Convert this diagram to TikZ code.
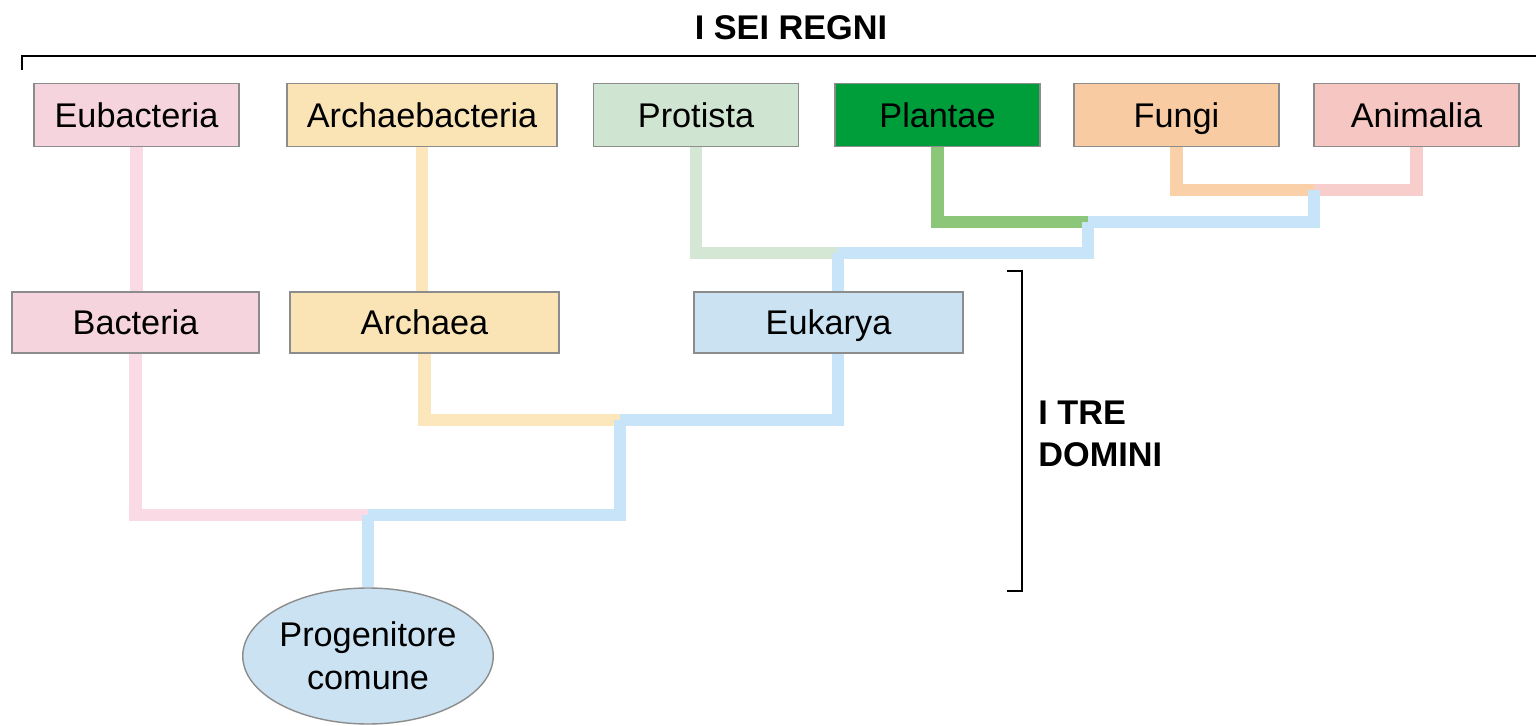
\documentclass[tikz,border=0pt]{standalone}
\usepackage{fontspec}
\setmainfont{Liberation Sans}
\usepackage{tikz}
\usetikzlibrary{calc,shapes.geometric}
\definecolor{rosa}{RGB}{246,212,222}
\definecolor{rosaramo}{RGB}{250,218,228}
\definecolor{giallo}{RGB}{250,228,182}
\definecolor{gialloramo}{RGB}{252,231,188}
\definecolor{verdino}{RGB}{208,228,210}
\definecolor{verdinoramo}{RGB}{212,230,212}
\definecolor{verde}{RGB}{0,158,58}
\definecolor{verderamo}{RGB}{140,198,120}
\definecolor{arancio}{RGB}{248,203,162}
\definecolor{arancioramo}{RGB}{250,208,168}
\definecolor{salmone}{RGB}{246,198,194}
\definecolor{salmoneramo}{RGB}{248,206,204}
\definecolor{azzurro}{RGB}{202,226,242}
\definecolor{azzurroramo}{RGB}{200,228,248}
\tikzstyle{regno}=[rectangle,draw=black!45,line width=0.8pt,minimum width=4.1cm,minimum height=1.26cm,inner sep=0pt,text height=14pt,text depth=0pt,font=\fontsize{19.5}{23}\selectfont]
\tikzstyle{dominio}=[regno,minimum height=1.22cm]
\tikzstyle{ramo}=[line width=7pt]
\tikzstyle{titolo}=[font=\fontsize{19.5}{24}\selectfont\bfseries,inner sep=0pt]

\begin{document}
\begin{tikzpicture}[x=0.02cm,y=-0.02cm]
		\useasboundingbox (0,0) rectangle (1536,726);

		\node(titolo)[titolo] at (791,28) {I SEI REGNI};
		\draw[line width=1.4pt] (22,70) -- (22,56) -- (1536,56);

		\node(eub)[regno,fill=rosa] at (136.5,115) {Eubacteria};
		\node(arb)[regno,fill=giallo,minimum width=5.4cm] at (422,115) {Archaebacteria};
		\node(pro)[regno,fill=verdino] at (696,115) {Protista};
		\node(pla)[regno,fill=verde] at (937.5,115) {Plantae};
		\node(fun)[regno,fill=arancio] at (1176.5,115) {Fungi};
		\node(ani)[regno,fill=salmone] at (1416.5,115) {Animalia};

		\node(bac)[dominio,fill=rosa,minimum width=4.94cm] at (135.5,322.5) {Bacteria};
		\node(arc)[dominio,fill=giallo,minimum width=5.38cm] at (424.5,322.5) {Archaea};
		\node(euk)[dominio,fill=azzurro,minimum width=5.38cm] at (828.5,322.5) {Eukarya};

		\node(prog)[ellipse,draw=black!45,line width=0.8pt,fill=azzurro,minimum width=4.7cm,minimum height=2.72cm,inner sep=0pt,align=center,font=\fontsize{19.5}{24.5}\selectfont] at (368,656) {Progenitore\\comune};

		\coordinate(c1) at (368,515);
		\coordinate(c2) at (620,420);
		\coordinate(c3) at (838,253);
		\coordinate(c4) at (1088,222);
		\coordinate(c5) at (1314,190);

		\draw[ramo,rosaramo] (eub.south) -- (eub.south |- bac.north);
		\draw[ramo,gialloramo] (arb.south) -- (arb.south |- arc.north);
		\draw[ramo,verdinoramo] (pro.south) |- (c3);
		\draw[ramo,verderamo] (pla.south) |- (c4);
		\draw[ramo,arancioramo] (fun.south) |- (c5);
		\draw[ramo,salmoneramo] (ani.south) |- (c5);
		\draw[ramo,azzurroramo] (c5) |- (c4);
		\draw[ramo,azzurroramo] (c4) |- (c3);
		\draw[ramo,azzurroramo] (c3) -- (c3 |- euk.north);

		\draw[ramo,rosaramo] (bac.south) |- (c1);
		\draw[ramo,gialloramo] (arc.south) |- (c2);
		\draw[ramo,azzurroramo] (c3 |- euk.south) |- (c2);
		\draw[ramo,azzurroramo] (c2) |- (c1);
		\draw[ramo,azzurroramo] (c1) -- (prog.north);

		\draw[line width=1.4pt] (1007,271) -- (1022,271) -- (1022,591) -- (1007,591);
		\node(domini)[titolo,align=left,anchor=west] at (1038,434) {I TRE\\DOMINI};

\end{tikzpicture}
\end{document}
